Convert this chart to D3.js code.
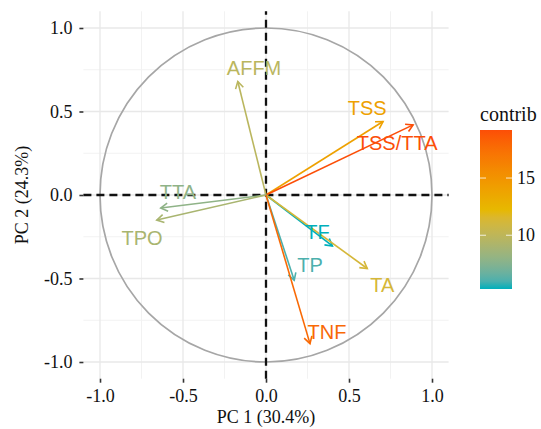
<!DOCTYPE html>
<html>
<head>
<meta charset="utf-8">
<script src="https://cdn.jsdelivr.net/npm/d3@7"></script>
<style>
  html, body { margin: 0; padding: 0; background: #fff; }
  svg { display: block; }
</style>
</head>
<body>
<script>
// ---- data ----
const variables = ["AFFM", "TSS", "TSS/TTA", "TTA", "TPO", "TF", "TA", "TP", "TNF"];
const pc1 = [-0.17, 0.705, 0.886, -0.634, -0.658, 0.40, 0.61, 0.17, 0.265];
const pc2 = [0.68, 0.44, 0.42, -0.078, -0.15, -0.305, -0.44, -0.51, -0.89];
const contrib = [9.8, 14.0, 19.2, 7.9, 9.0, 5.3, 11.2, 6.0, 17.8];
// label anchor positions (data units, repelled labels)
const labelPC1 = [-0.072, 0.61, 0.79, -0.53, -0.747, 0.31, 0.70, 0.265, 0.367];
const labelPC2 = [0.76, 0.52, 0.31, 0.02, -0.257, -0.22, -0.54, -0.42, -0.82];
const axisTicks = [-1.0, -0.5, 0.0, 0.5, 1.0];
const minorTicks = [-0.75, -0.25, 0.25, 0.75];
const legendTicks = [10, 15];
const gradientCols = ["#00AFBB", "#E7B800", "#FC4E07"];
const xTitle = "PC 1 (30.4%)";
const yTitle = "PC 2 (24.3%)";
const legendTitle = "contrib";

// ---- layout ----
const W = 541, H = 429;
const svg = d3.select("body").append("svg").attr("width", W).attr("height", H);
const serif = "'Liberation Serif', 'Times New Roman', serif";
const sans = "'Liberation Sans', Arial, Helvetica, sans-serif";

const x = d3.scaleLinear().domain([-1.1, 1.1]).range([83.4, 448.6]);
const y = d3.scaleLinear().domain([-1.1, 1.1]).range([378.7, 11.3]);

const cMin = d3.min(contrib), cMax = d3.max(contrib);
const color = d3.scaleLinear()
  .domain([cMin, (cMin + cMax) / 2, cMax])
  .range(gradientCols)
  .interpolate(d3.interpolateLab);

const panel = svg.append("g");

// grid
panel.selectAll("line.minx").data(minorTicks).join("line")
  .attr("x1", d => x(d)).attr("x2", d => x(d))
  .attr("y1", y.range()[0]).attr("y2", y.range()[1])
  .attr("stroke", "#f2f2f2").attr("stroke-width", 1);
panel.selectAll("line.miny").data(minorTicks).join("line")
  .attr("y1", d => y(d)).attr("y2", d => y(d))
  .attr("x1", x.range()[0]).attr("x2", x.range()[1])
  .attr("stroke", "#f2f2f2").attr("stroke-width", 1);
panel.selectAll("line.majx").data(axisTicks).join("line")
  .attr("x1", d => x(d)).attr("x2", d => x(d))
  .attr("y1", y.range()[0]).attr("y2", y.range()[1])
  .attr("stroke", "#e8e8e8").attr("stroke-width", 1.3);
panel.selectAll("line.majy").data(axisTicks).join("line")
  .attr("y1", d => y(d)).attr("y2", d => y(d))
  .attr("x1", x.range()[0]).attr("x2", x.range()[1])
  .attr("stroke", "#e8e8e8").attr("stroke-width", 1.3);

// correlation circle
panel.append("ellipse")
  .attr("cx", x(0)).attr("cy", y(0))
  .attr("rx", x(1) - x(0)).attr("ry", y(0) - y(1))
  .attr("fill", "none").attr("stroke", "#a6a6a6").attr("stroke-width", 1.7);

// dashed reference lines
panel.append("line")
  .attr("x1", x.range()[0]).attr("x2", x.range()[1])
  .attr("y1", y(0)).attr("y2", y(0))
  .attr("stroke", "#111").attr("stroke-width", 2.3).attr("stroke-dasharray", "8,5");
panel.append("line")
  .attr("x1", x(0)).attr("x2", x(0))
  .attr("y1", y.range()[0]).attr("y2", y.range()[1])
  .attr("stroke", "#111").attr("stroke-width", 2.3).attr("stroke-dasharray", "8,5");

// arrows
const items = variables.map((v, i) => ({
  name: v, px: pc1[i], py: pc2[i], c: contrib[i], lx: labelPC1[i], ly: labelPC2[i]
}));
const headLen = 8, headAng = Math.PI / 6;
const ag = panel.append("g");
items.forEach(d => {
  const x0 = x(0), y0 = y(0), x1 = x(d.px), y1 = y(d.py);
  const a = Math.atan2(y1 - y0, x1 - x0);
  const col = color(d.c);
  ag.append("line").attr("x1", x0).attr("y1", y0).attr("x2", x1).attr("y2", y1)
    .attr("stroke", col).attr("stroke-width", 1.6);
  const p = d3.path();
  p.moveTo(x1 - headLen * Math.cos(a - headAng), y1 - headLen * Math.sin(a - headAng));
  p.lineTo(x1, y1);
  p.lineTo(x1 - headLen * Math.cos(a + headAng), y1 - headLen * Math.sin(a + headAng));
  ag.append("path").attr("d", p.toString()).attr("fill", "none")
    .attr("stroke", col).attr("stroke-width", 1.6).attr("stroke-linejoin", "miter");
});
// labels
panel.selectAll("text.lab").data(items).join("text")
  .attr("x", d => x(d.lx)).attr("y", d => y(d.ly))
  .attr("text-anchor", "middle").attr("dominant-baseline", "central")
  .attr("font-family", sans).attr("font-size", 20)
  .attr("fill", d => color(d.c))
  .text(d => d.name);

// axes
const fmt = v => d3.format(".1f")(v).replace("\u2212", "-");
const xAxis = svg.append("g").attr("transform", `translate(0,${y.range()[0]})`)
  .call(d3.axisBottom(x).tickValues(axisTicks).tickFormat(fmt).tickSize(4).tickPadding(7));
const yAxis = svg.append("g").attr("transform", `translate(${x.range()[0]},0)`)
  .call(d3.axisLeft(y).tickValues(axisTicks).tickFormat(fmt).tickSize(4).tickPadding(7));
[xAxis, yAxis].forEach(g => {
  g.select(".domain").remove();
  g.selectAll(".tick line").attr("stroke", "#333").attr("stroke-width", 1.6);
  g.selectAll(".tick text").attr("font-family", serif).attr("font-size", 18).attr("fill", "#111");
});

// axis titles
svg.append("text").attr("x", x(0)).attr("y", 423)
  .attr("text-anchor", "middle").attr("font-family", serif).attr("font-size", 18)
  .attr("fill", "#111").text(xTitle);
svg.append("text").attr("transform", `translate(28,${y(0)}) rotate(-90)`)
  .attr("text-anchor", "middle").attr("font-family", serif).attr("font-size", 18)
  .attr("fill", "#111").text(yTitle);

// legend
const lx0 = 480, lw = 32, ly0 = 130, lh = 159;
const defs = svg.append("defs");
const grad = defs.append("linearGradient").attr("id", "cg")
  .attr("x1", 0).attr("x2", 0).attr("y1", 1).attr("y2", 0);
d3.range(0, 1.0001, 0.05).forEach(t => {
  grad.append("stop").attr("offset", t).attr("stop-color", color(cMin + t * (cMax - cMin)));
});
const ls = d3.scaleLinear().domain([cMin, cMax]).range([ly0 + lh, ly0]);
svg.append("rect").attr("x", lx0).attr("y", ly0).attr("width", lw).attr("height", lh)
  .attr("fill", "url(#cg)");
legendTicks.forEach(t => {
  svg.append("line").attr("x1", lx0).attr("x2", lx0 + 6).attr("y1", ls(t)).attr("y2", ls(t))
    .attr("stroke", "#fff").attr("stroke-width", 1).attr("opacity", 0.8);
  svg.append("line").attr("x1", lx0 + lw - 6).attr("x2", lx0 + lw).attr("y1", ls(t)).attr("y2", ls(t))
    .attr("stroke", "#fff").attr("stroke-width", 1).attr("opacity", 0.8);
  svg.append("text").attr("x", lx0 + lw + 5).attr("y", ls(t)).attr("dominant-baseline", "central")
    .attr("font-family", serif).attr("font-size", 18).attr("fill", "#111").text(t);
});
svg.append("text").attr("x", lx0).attr("y", 121)
  .attr("font-family", serif).attr("font-size", 20).attr("fill", "#111").text(legendTitle);
</script>
</body>
</html>
